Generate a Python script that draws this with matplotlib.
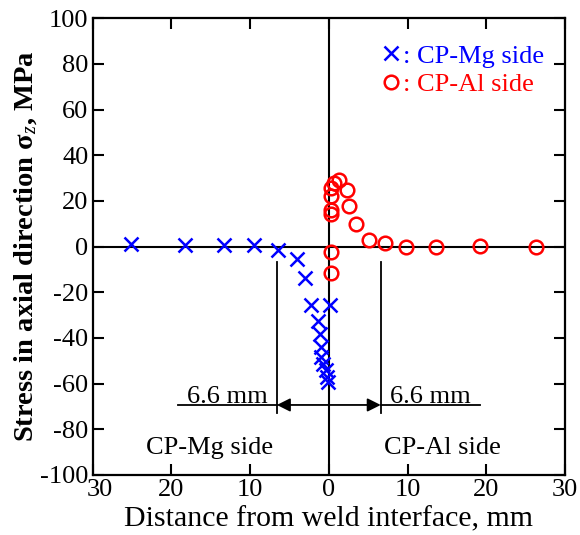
import matplotlib
matplotlib.use("Agg")
import matplotlib.pyplot as plt
from matplotlib.ticker import FuncFormatter
from matplotlib.transforms import ScaledTranslation

plt.rcParams['font.family'] = ['Liberation Serif', 'DejaVu Serif']
plt.rcParams['mathtext.fontset'] = 'custom'
plt.rcParams['mathtext.rm'] = 'Liberation Serif'
plt.rcParams['mathtext.it'] = 'Liberation Serif:italic'
plt.rcParams['mathtext.bf'] = 'Liberation Serif:bold'
plt.rcParams['axes.unicode_minus'] = False

# Data (negative x = CP-Mg side, positive x = CP-Al side)
mg_x = [-25.1, -18.3, -13.3, -9.5, -6.4, -4.1, -3.05, -2.2, 0.1, -1.35, -1.14, -0.93, -0.93, -0.72, -0.38, -0.17, -0.08]
mg_y = [1.0, 0.9, 0.9, 0.9, -1.5, -5.5, -13.9, -25.5, -25.5, -32.5, -38.5, -44.0, -48.5, -51.5, -54.0, -57.0, -59.5]
al_x = [1.3, 0.7, 0.3, 2.25, 0.3, 2.55, 0.3, 0.3, 3.4, 5.1, 7.2, 9.8, 13.6, 19.2, 26.3, 0.3, 0.3]
al_y = [29.0, 28.0, 25.5, 24.6, 22.3, 17.6, 16.2, 14.2, 10.1, 2.9, 1.4, -0.4, -0.4, 0.4, 0.0, -2.2, -11.7]
mg_label = ": CP-Mg side"
al_label = ": CP-Al side"
xticks = [-30, -20, -10, 0, 10, 20, 30]
yticks = [-100, -80, -60, -40, -20, 0, 20, 40, 60, 80, 100]
haz_width = 6.6
arrow_y = -69.4
vline_top = -6.6
vline_bottom = -72.9
underline_len = 12.6

fig = plt.figure(figsize=(5.8, 5.35), dpi=100)
ax = fig.add_axes([0.1598, 0.1125, 0.8142, 0.8533])

ax.axhline(0, color='black', lw=1.5, zorder=1)
ax.axvline(0, color='black', lw=1.5, zorder=1)

ax.plot(mg_x, mg_y, linestyle='none', marker='x', ms=9.5, mew=1.8, color='blue',
        label=mg_label, zorder=3)
ax.plot(al_x, al_y, linestyle='none', marker='o', ms=9.8, mew=1.8, mfc='none',
        mec='red', color='red', label=al_label, zorder=3)

# HAZ annotation
for sgn in (-1, 1):
    ax.plot([sgn * haz_width, sgn * haz_width], [vline_top, vline_bottom], color='black', lw=1.3)
    ax.plot([sgn * haz_width, sgn * (haz_width + underline_len)], [arrow_y, arrow_y], color='black', lw=1.3)
    ax.annotate('', xy=(sgn * haz_width, arrow_y), xytext=(0, arrow_y),
                arrowprops=dict(arrowstyle='-|>', color='black', lw=1.3, mutation_scale=20,
                                shrinkA=0, shrinkB=0))
    ax.text(sgn * (haz_width + underline_len / 2), arrow_y + 0.8, '6.6 mm',
            ha='center', va='baseline', fontsize=19)
ax.text(-15.2, -91, 'CP-Mg side', ha='center', va='baseline', fontsize=19)
ax.text(14.4, -91, 'CP-Al side', ha='center', va='baseline', fontsize=19)

ax.set_xlim(-30, 30)
ax.set_ylim(-100, 100)
ax.set_xticks(xticks)
ax.set_yticks(yticks)
ax.xaxis.set_major_formatter(FuncFormatter(lambda v, p: f'{abs(v):.0f}'))
ax.yaxis.set_major_formatter(FuncFormatter(lambda v, p: f'{v:.0f}'))
ax.tick_params(direction='in', length=8, width=1.5, labelsize=19, top=True, right=True, pad=3)
for s in ax.spines.values():
    s.set_linewidth(1.6)

# shift the leftmost x tick label slightly right, as in the reference
fig.canvas.draw()
xl = ax.get_xticklabels()
xl[0].set_transform(xl[0].get_transform() + ScaledTranslation(7 / 100, 0, fig.dpi_scale_trans))

ax.set_xlabel('Distance from weld interface, mm', fontsize=21.5, labelpad=4)
ax.set_ylabel(r'Stress in axial direction $\mathbf{\sigma}_\mathit{z}$, MPa', fontsize=20.5,
              fontweight='bold', labelpad=1)

leg = ax.legend(loc='upper right', bbox_to_anchor=(0.99, 0.978), frameon=False, fontsize=19,
                handlelength=0.9, handletextpad=0.0, labelspacing=0.18, borderaxespad=0.2,
                labelcolor='linecolor')

fig.savefig('out.png', dpi=100)
